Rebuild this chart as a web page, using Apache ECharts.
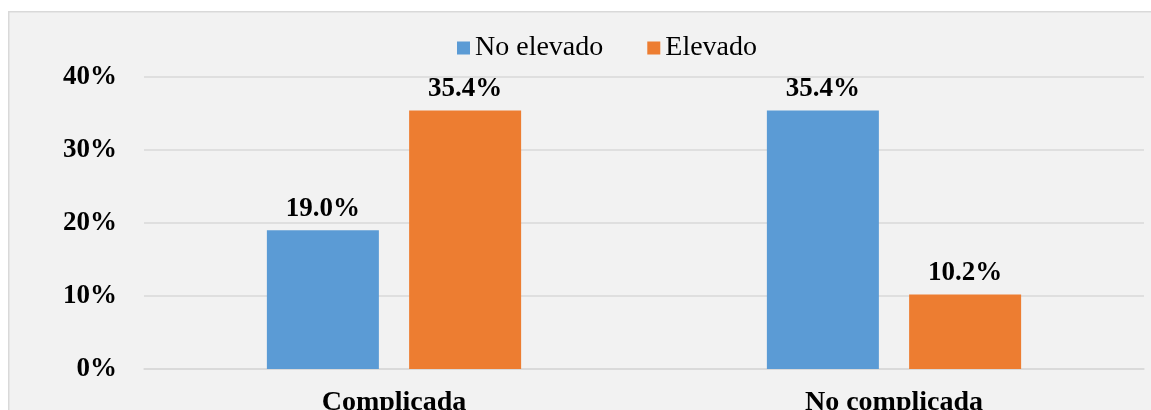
<!DOCTYPE html>
<html><head><meta charset="utf-8">
<script src="https://cdn.jsdelivr.net/npm/echarts@6/dist/echarts.min.js"></script>
<style>html,body{margin:0;padding:0;background:#fff}#c{width:1151px;height:410px}</style>
</head><body><div id="c"></div>
<script>
const categories = ['Complicada', 'No complicada'];
const noElevado = [19.0, 35.4];
const elevado = [35.4, 10.2];
const yTicks = [0, 10, 20, 30, 40];
const seriesNames = ['No elevado', 'Elevado'];

const font = '"Liberation Serif", "Times New Roman", serif';
const chart = echarts.init(document.getElementById('c'), null, {renderer: 'canvas'});
const labelCfg = {
  show: true, position: 'top', distance: 8,
  formatter: p => p.value.toFixed(1) + '%',
  fontFamily: font, fontWeight: 'bold', fontSize: 27, color: '#000'
};
chart.setOption({
  backgroundColor: '#fff',
  animation: false,
  graphic: [{
    type: 'rect', left: 8, top: 11, z: -10,
    shape: {width: 1160, height: 410},
    style: {fill: '#f2f2f2', stroke: '#d9d9d9', lineWidth: 1.5}
  }],
  legend: {
    left: 452, top: 29, itemWidth: 13, itemHeight: 13, itemGap: 44,
    icon: 'rect',
    textStyle: {fontFamily: font, fontSize: 28, color: '#000'},
    data: seriesNames
  },
  grid: {left: 144, right: 7, top: 77, bottom: 41, containLabel: false, outerBoundsMode: 'none'},
  xAxis: {
    type: 'category', data: categories,
    axisLine: {lineStyle: {color: '#d9d9d9', width: 1.5}},
    axisTick: {show: false},
    axisLabel: {fontFamily: font, fontWeight: 'bold', fontSize: 28, color: '#000', margin: 20}
  },
  yAxis: {
    type: 'value', min: yTicks[0], max: yTicks[yTicks.length - 1], interval: 10,
    axisLine: {show: false}, axisTick: {show: false},
    splitLine: {lineStyle: {color: '#d9d9d9', width: 1.5}},
    axisLabel: {fontFamily: font, fontWeight: 'bold', fontSize: 27, color: '#000', margin: 27,
      formatter: v => v + '%'}
  },
  series: [
    {name: seriesNames[0], type: 'bar', data: noElevado, barWidth: 112, barGap: '27%',
      itemStyle: {color: '#5b9bd5'}, label: labelCfg},
    {name: seriesNames[1], type: 'bar', data: elevado, barWidth: 112, barGap: '27%',
      itemStyle: {color: '#ed7d31'}, label: labelCfg}
  ]
});
</script></body></html>
